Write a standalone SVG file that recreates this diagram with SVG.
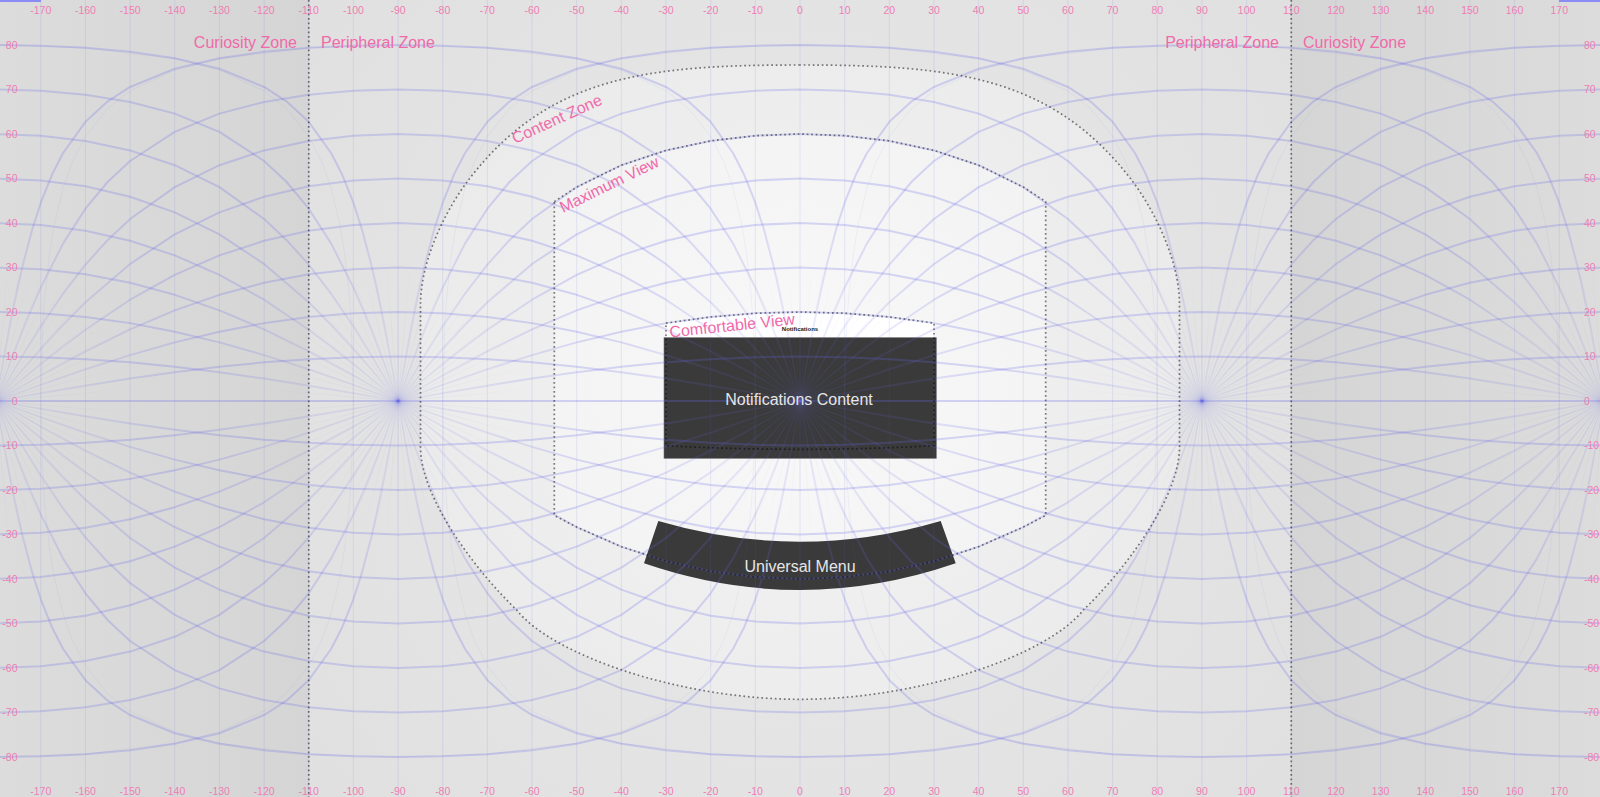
<svg xmlns="http://www.w3.org/2000/svg" width="1600" height="797" viewBox="0 0 1600 797">
<defs>
<style>
.ax{font-family:"Liberation Sans",Arial,sans-serif;font-size:10.5px;fill:#f07db4}
.zl{font-family:"Liberation Sans",Arial,sans-serif;font-size:16px;fill:#f06aa9}
.bx{font-family:"Liberation Sans",Arial,sans-serif;font-size:16px;fill:#e6e6e6}
.mer{fill:none;stroke:#6464e6;stroke-opacity:.12;stroke-width:1}
.eq{stroke:#6464e6;stroke-opacity:.26;stroke-width:1.8}
.dot{fill:none;stroke:#000;stroke-opacity:.5;stroke-width:1.7;stroke-dasharray:1.7 2.8}
.ring{fill:none;stroke:#6464e6;stroke-opacity:.07;stroke-width:1}
.h stop{stop-color:#6464e6}
#Hup path{fill:none;stroke-width:2;stroke-linejoin:round}
</style>
<radialGradient id="per" gradientUnits="userSpaceOnUse" cx="800" cy="400" r="700"><stop offset="0" stop-color="#e9e9e9"/><stop offset="1" stop-color="#dfdfdf"/></radialGradient>
<linearGradient id="curL" gradientUnits="userSpaceOnUse" x1="0" y1="0" x2="308.7" y2="0"><stop offset="0" stop-color="#dcdcdc"/><stop offset="1" stop-color="#d5d5d5"/></linearGradient>
<linearGradient id="curR" gradientUnits="userSpaceOnUse" x1="1291.3" y1="0" x2="1600" y2="0"><stop offset="0" stop-color="#d5d5d5"/><stop offset="1" stop-color="#dcdcdc"/></linearGradient>
<radialGradient id="cz" gradientUnits="userSpaceOnUse" cx="800" cy="390" r="390"><stop offset="0" stop-color="#f4f4f4"/><stop offset="1" stop-color="#ebebeb"/></radialGradient>
<radialGradient id="mv" gradientUnits="userSpaceOnUse" cx="800" cy="380" r="280"><stop offset="0" stop-color="#f9f9f9"/><stop offset="1" stop-color="#f3f3f3"/></radialGradient>
<radialGradient id="rg" class="h" gradientUnits="userSpaceOnUse" cx="0" cy="0" r="150"><stop offset="0" stop-opacity=".12"/><stop offset=".3" stop-opacity=".07"/><stop offset=".7" stop-opacity=".025"/><stop offset="1" stop-opacity="0"/></radialGradient>
<linearGradient id="g10" class="h" gradientUnits="userSpaceOnUse" x1="-401.94" y1="0" x2="401.94" y2="0"><stop offset="0" stop-opacity=".032"/><stop offset=".011" stop-opacity=".042"/><stop offset=".028" stop-opacity=".056"/><stop offset=".056" stop-opacity=".08"/><stop offset=".111" stop-opacity=".126"/><stop offset=".194" stop-opacity=".189"/><stop offset=".278" stop-opacity=".24"/><stop offset=".722" stop-opacity=".24"/><stop offset=".806" stop-opacity=".189"/><stop offset=".889" stop-opacity=".126"/><stop offset=".944" stop-opacity=".08"/><stop offset=".972" stop-opacity=".056"/><stop offset=".989" stop-opacity=".042"/><stop offset="1" stop-opacity=".032"/></linearGradient>
<linearGradient id="g20" class="h" gradientUnits="userSpaceOnUse" x1="-401.94" y1="0" x2="401.94" y2="0"><stop offset="0" stop-opacity=".032"/><stop offset=".011" stop-opacity=".042"/><stop offset=".028" stop-opacity=".057"/><stop offset=".056" stop-opacity=".082"/><stop offset=".111" stop-opacity=".13"/><stop offset=".194" stop-opacity=".194"/><stop offset=".278" stop-opacity=".24"/><stop offset=".722" stop-opacity=".24"/><stop offset=".806" stop-opacity=".194"/><stop offset=".889" stop-opacity=".13"/><stop offset=".944" stop-opacity=".082"/><stop offset=".972" stop-opacity=".057"/><stop offset=".989" stop-opacity=".042"/><stop offset="1" stop-opacity=".032"/></linearGradient>
<linearGradient id="g30" class="h" gradientUnits="userSpaceOnUse" x1="-401.94" y1="0" x2="401.94" y2="0"><stop offset="0" stop-opacity=".032"/><stop offset=".011" stop-opacity=".043"/><stop offset=".028" stop-opacity=".059"/><stop offset=".056" stop-opacity=".086"/><stop offset=".111" stop-opacity=".136"/><stop offset=".194" stop-opacity=".202"/><stop offset=".278" stop-opacity=".24"/><stop offset=".722" stop-opacity=".24"/><stop offset=".806" stop-opacity=".202"/><stop offset=".889" stop-opacity=".136"/><stop offset=".944" stop-opacity=".086"/><stop offset=".972" stop-opacity=".059"/><stop offset=".989" stop-opacity=".043"/><stop offset="1" stop-opacity=".032"/></linearGradient>
<linearGradient id="g40" class="h" gradientUnits="userSpaceOnUse" x1="-401.94" y1="0" x2="401.94" y2="0"><stop offset="0" stop-opacity=".032"/><stop offset=".011" stop-opacity=".045"/><stop offset=".028" stop-opacity=".062"/><stop offset=".056" stop-opacity=".092"/><stop offset=".111" stop-opacity=".147"/><stop offset=".194" stop-opacity=".214"/><stop offset=".278" stop-opacity=".24"/><stop offset=".722" stop-opacity=".24"/><stop offset=".806" stop-opacity=".214"/><stop offset=".889" stop-opacity=".147"/><stop offset=".944" stop-opacity=".092"/><stop offset=".972" stop-opacity=".062"/><stop offset=".989" stop-opacity=".045"/><stop offset="1" stop-opacity=".032"/></linearGradient>
<linearGradient id="g50" class="h" gradientUnits="userSpaceOnUse" x1="-401.94" y1="0" x2="401.94" y2="0"><stop offset="0" stop-opacity=".032"/><stop offset=".011" stop-opacity=".046"/><stop offset=".028" stop-opacity=".069"/><stop offset=".056" stop-opacity=".104"/><stop offset=".111" stop-opacity=".165"/><stop offset=".194" stop-opacity=".23"/><stop offset=".278" stop-opacity=".24"/><stop offset=".722" stop-opacity=".24"/><stop offset=".806" stop-opacity=".23"/><stop offset=".889" stop-opacity=".165"/><stop offset=".944" stop-opacity=".104"/><stop offset=".972" stop-opacity=".069"/><stop offset=".989" stop-opacity=".046"/><stop offset="1" stop-opacity=".032"/></linearGradient>
<linearGradient id="g60" class="h" gradientUnits="userSpaceOnUse" x1="-401.94" y1="0" x2="401.94" y2="0"><stop offset="0" stop-opacity=".032"/><stop offset=".011" stop-opacity=".051"/><stop offset=".028" stop-opacity=".078"/><stop offset=".056" stop-opacity=".122"/><stop offset=".111" stop-opacity=".191"/><stop offset=".194" stop-opacity=".24"/><stop offset=".806" stop-opacity=".24"/><stop offset=".889" stop-opacity=".191"/><stop offset=".944" stop-opacity=".122"/><stop offset=".972" stop-opacity=".078"/><stop offset=".989" stop-opacity=".051"/><stop offset="1" stop-opacity=".032"/></linearGradient>
<linearGradient id="g70" class="h" gradientUnits="userSpaceOnUse" x1="-401.94" y1="0" x2="401.94" y2="0"><stop offset="0" stop-opacity=".032"/><stop offset=".011" stop-opacity=".06"/><stop offset=".028" stop-opacity=".099"/><stop offset=".056" stop-opacity=".156"/><stop offset=".111" stop-opacity=".228"/><stop offset=".194" stop-opacity=".24"/><stop offset=".806" stop-opacity=".24"/><stop offset=".889" stop-opacity=".228"/><stop offset=".944" stop-opacity=".156"/><stop offset=".972" stop-opacity=".099"/><stop offset=".989" stop-opacity=".06"/><stop offset="1" stop-opacity=".032"/></linearGradient>
<linearGradient id="g80" class="h" gradientUnits="userSpaceOnUse" x1="-401.94" y1="0" x2="401.94" y2="0"><stop offset="0" stop-opacity=".032"/><stop offset=".011" stop-opacity=".086"/><stop offset=".028" stop-opacity=".154"/><stop offset=".056" stop-opacity=".224"/><stop offset=".111" stop-opacity=".24"/><stop offset=".889" stop-opacity=".24"/><stop offset=".944" stop-opacity=".224"/><stop offset=".972" stop-opacity=".154"/><stop offset=".989" stop-opacity=".086"/><stop offset="1" stop-opacity=".032"/></linearGradient>
<g id="Hup">
<path stroke="url(#g10)" d="M-401.94,0L-357.28,-7.81L-312.62,-15.36L-267.96,-22.42L-223.3,-28.77L-178.64,-34.23L-133.98,-38.64L-89.32,-41.87L-44.66,-43.84L0,-44.5L44.66,-43.84L89.32,-41.87L133.98,-38.64L178.64,-34.23L223.3,-28.77L267.96,-22.42L312.62,-15.36L357.28,-7.81L401.94,0"/>
<path stroke="url(#g20)" d="M-401.94,0L-357.28,-16.11L-312.62,-31.6L-267.96,-45.88L-223.3,-58.61L-178.64,-69.33L-133.98,-77.88L-89.32,-84.02L-44.66,-87.75L0,-89L44.66,-87.75L89.32,-84.02L133.98,-77.88L178.64,-69.33L223.3,-58.61L267.96,-45.88L312.62,-31.6L357.28,-16.11L401.94,0"/>
<path stroke="url(#g30)" d="M-401.94,0L-357.28,-25.5L-312.62,-49.71L-267.96,-71.65L-223.3,-90.6L-178.64,-106.18L-133.98,-118.24L-89.32,-126.74L-44.66,-131.81L0,-133.5L44.66,-131.81L89.32,-126.74L133.98,-118.24L178.64,-106.18L223.3,-90.6L267.96,-71.65L312.62,-49.71L357.28,-25.5L401.94,0"/>
<path stroke="url(#g40)" d="M-401.94,0L-379.61,-18.6L-357.28,-36.89L-334.95,-54.51L-312.62,-71.24L-267.96,-101.28L-223.3,-126.11L-178.64,-145.65L-133.98,-160.2L-89.32,-170.26L-44.66,-176.09L0,-178L44.66,-176.09L89.32,-170.26L133.98,-160.2L178.64,-145.65L223.3,-126.11L267.96,-101.28L312.62,-71.24L334.95,-54.51L357.28,-36.89L379.61,-18.6L401.94,0"/>
<path stroke="url(#g50)" d="M-401.94,0L-388.54,-15.89L-375.14,-31.6L-357.28,-52.02L-334.95,-76.27L-312.62,-98.7L-267.96,-137.02L-223.3,-166.65L-178.64,-188.64L-133.98,-204.26L-89.32,-214.67L-44.66,-220.59L0,-222.5L44.66,-220.59L89.32,-214.67L133.98,-204.26L178.64,-188.64L223.3,-166.65L267.96,-137.02L312.62,-98.7L334.95,-76.27L357.28,-52.02L375.14,-31.6L388.54,-15.89L401.94,0"/>
<path stroke="url(#g60)" d="M-401.94,0L-397.47,-7.7L-388.54,-23.05L-375.14,-45.66L-357.28,-74.49L-334.95,-107.47L-312.62,-136.35L-290.29,-161.1L-267.96,-181.96L-223.3,-213.91L-178.64,-235.81L-133.98,-250.58L-89.32,-260.06L-44.66,-265.31L0,-267L44.66,-265.31L89.32,-260.06L133.98,-250.58L178.64,-235.81L223.3,-213.91L267.96,-181.96L290.29,-161.1L312.62,-136.35L334.95,-107.47L357.28,-74.49L375.14,-45.66L388.54,-23.05L397.47,-7.7L401.94,0"/>
<path stroke="url(#g70)" d="M-401.94,0L-397.47,-12.19L-388.54,-36.4L-384.08,-48.28L-375.14,-71.29L-366.21,-93.14L-357.28,-113.48L-334.95,-157.62L-312.62,-192.33L-290.29,-219.25L-267.96,-240.03L-223.3,-269.14L-178.64,-287.38L-133.98,-299.08L-89.32,-306.29L-44.66,-310.25L0,-311.5L44.66,-310.25L89.32,-306.29L133.98,-299.08L178.64,-287.38L223.3,-269.14L267.96,-240.03L290.29,-219.25L312.62,-192.33L334.95,-157.62L357.28,-113.48L366.21,-93.14L375.14,-71.29L384.08,-48.28L388.54,-36.4L397.47,-12.19L401.94,0"/>
<path stroke="url(#g80)" d="M-401.94,0L-397.47,-25.14L-393.01,-49.84L-388.54,-73.56L-384.08,-96.08L-379.61,-117L-375.14,-136.44L-366.21,-170.35L-357.28,-198.29L-346.12,-226.2L-334.95,-248L-312.62,-279.15L-290.29,-299.7L-267.96,-314.04L-223.3,-332.24L-178.64,-342.83L-133.98,-349.28L-89.32,-353.2L-44.66,-355.33L0,-356L44.66,-355.33L89.32,-353.2L133.98,-349.28L178.64,-342.83L223.3,-332.24L267.96,-314.04L290.29,-299.7L312.62,-279.15L334.95,-248L346.12,-226.2L357.28,-198.29L366.21,-170.35L375.14,-136.44L379.61,-117L384.08,-96.08L388.54,-73.56L393.01,-49.84L397.47,-25.14L401.94,0"/>
</g>
<g id="H"><use href="#Hup"/><use href="#Hup" transform="scale(1,-1)"/></g>
<path id="SB" fill="none" stroke="url(#rg)" stroke-width=".8" d="M-150,0L150,0M-149.43,-13.07L149.43,13.07M-149.43,13.07L149.43,-13.07M-147.72,-26.05L147.72,26.05M-147.72,26.05L147.72,-26.05M-144.89,-38.82L144.89,38.82M-144.89,38.82L144.89,-38.82M-140.95,-51.3L140.95,51.3M-140.95,51.3L140.95,-51.3M-135.95,-63.39L135.95,63.39M-135.95,63.39L135.95,-63.39M-129.9,-75L129.9,75M-129.9,75L129.9,-75M-122.87,-86.04L122.87,86.04M-122.87,86.04L122.87,-86.04M-114.91,-96.42L114.91,96.42M-114.91,96.42L114.91,-96.42M-106.07,-106.07L106.07,106.07M-106.07,106.07L106.07,-106.07M-96.42,-114.91L96.42,114.91M-96.42,114.91L96.42,-114.91M-86.04,-122.87L86.04,122.87M-86.04,122.87L86.04,-122.87M-75,-129.9L75,129.9M-75,129.9L75,-129.9M-63.39,-135.95L63.39,135.95M-63.39,135.95L63.39,-135.95M-51.3,-140.95L51.3,140.95M-51.3,140.95L51.3,-140.95M-38.82,-144.89L38.82,144.89M-38.82,144.89L38.82,-144.89M-26.05,-147.72L26.05,147.72M-26.05,147.72L26.05,-147.72M-13.07,-149.43L13.07,149.43M-13.07,149.43L13.07,-149.43M0,-150L0,150"/>
<path id="R80" class="ring" d="M-357.28,0L-355.05,-78.32L-352.81,-109.07L-348.35,-148.5L-343.88,-175.73L-334.95,-212.98L-326.02,-238.39L-312.62,-264.73L-290.29,-292.54L-267.96,-310.08L-223.3,-330.77L-178.64,-342.2L-89.32,-353.1L0,-356L89.32,-353.1L178.64,-342.2L223.3,-330.77L267.96,-310.08L290.29,-292.54L312.62,-264.73L326.02,-238.39L334.95,-212.98L343.88,-175.73L348.35,-148.5L352.81,-109.07L355.05,-78.32L357.28,0L355.05,78.32L352.81,109.07L348.35,148.5L343.88,175.73L334.95,212.98L326.02,238.39L312.62,264.73L290.29,292.54L267.96,310.08L223.3,330.77L178.64,342.2L89.32,353.1L0,356L-89.32,353.1L-178.64,342.2L-223.3,330.77L-267.96,310.08L-290.29,292.54L-312.62,264.73L-326.02,238.39L-334.95,212.98L-343.88,175.73L-348.35,148.5L-352.81,109.07L-355.05,78.32Z"/>
</defs>

<g id="zones">
<rect width="1600" height="797" fill="url(#per)"/>
<rect x="0" y="0" width="308.7" height="797" fill="url(#curL)"/>
<rect x="1291.3" y="0" width="308.7" height="797" fill="url(#curR)"/>
<path id="content-zone-fill" fill="url(#cz)" d="M800,65C650,65 550,75 470,178C446,209 420.5,260 420.5,305L420.5,447C420.5,500 480,575 516.7,610C552,655 680,699.3 800,699.3C920,699.3 1048,655 1083.3,610C1120,575 1179.5,500 1179.5,447L1179.5,305C1179.5,260 1154,209 1130,178C1050,75 950,65 800,65Z"/>
<path id="max-view-fill" fill="url(#mv)" d="M554.3,201.6L576.7,187.1L621.4,165.2L666,150.4L710.7,140.9L755.3,135.7L800,134L844.7,135.7L889.3,140.9L934,150.4L978.6,165.2L1023.3,187.1L1045.7,201.6L1045.7,515.4L1023.3,527.1L978.6,546.7L934,561.2L889.3,571.3L844.7,577.1L800,579L755.3,577.1L710.7,571.3L666,561.2L621.4,546.7L576.7,527.1L554.3,515.4Z"/>
<path id="comfortable-fill" fill="#ffffff" d="M666,323.1L710.7,317L755.3,313.25L800,312L844.7,313.25L889.3,317L934,323.1L934,445.7Q800,452.9 666,445.7Z"/>
</g>

<g id="notifications-box">
<rect x="664" y="337.7" width="272.3" height="120.6" fill="#3a3a3a" stroke="#6e6e6e" stroke-width=".6"/>
</g>
<g id="universal-menu-box">
<path d="M658.3,521Q800,562.4 940.7,521L955.7,563.3Q800,616.7 644,563.3Z" fill="#3a3a3a"/>
</g>

<g id="grid">
<path class="mer" d="M40.78,0V797M85.44,0V797M130.1,0V797M174.76,0V797M219.42,0V797M264.08,0V797M308.74,0V797M353.4,0V797M398.06,0V797M442.72,0V797M487.38,0V797M532.04,0V797M576.7,0V797M621.36,0V797M666.02,0V797M710.68,0V797M755.34,0V797M800,0V797M844.66,0V797M889.32,0V797M933.98,0V797M978.64,0V797M1023.3,0V797M1067.96,0V797M1112.62,0V797M1157.28,0V797M1201.94,0V797M1246.6,0V797M1291.26,0V797M1335.92,0V797M1380.58,0V797M1425.24,0V797M1469.9,0V797M1514.56,0V797M1559.22,0V797"/>
<line class="eq" x1="0" y1="401" x2="1600" y2="401"/>
<use href="#H" transform="translate(-3.88,401)"/>
<use href="#H" transform="translate(398.06,401)"/>
<use href="#H" transform="translate(800,401)"/>
<use href="#H" transform="translate(1201.94,401)"/>
<use href="#H" transform="translate(1603.88,401)"/>
<use href="#SB" transform="translate(-3.88,401)"/>
<use href="#SB" transform="translate(398.06,401)"/>
<use href="#SB" transform="translate(800,401)"/>
<use href="#SB" transform="translate(1201.94,401)"/>
<use href="#SB" transform="translate(1603.88,401)"/>
<use href="#R80" transform="translate(-3.88,401)"/>
<use href="#R80" transform="translate(398.06,401)"/>
<use href="#R80" transform="translate(800,401)"/>
<use href="#R80" transform="translate(1201.94,401)"/>
<use href="#R80" transform="translate(1603.88,401)"/>
<ellipse cx="398.06" cy="401" rx="2.2" ry="1.2" fill="#6464e6" fill-opacity=".3"/>
<ellipse cx="1201.94" cy="401" rx="2.2" ry="1.2" fill="#6464e6" fill-opacity=".3"/>
<rect x="0" y="0" width="41" height="2" fill="#8b8bf5"/>
<rect x="1559" y="0" width="41" height="2" fill="#8b8bf5"/>
</g>

<g id="outlines">
<line class="dot" x1="308.74" y1="0" x2="308.74" y2="797"/>
<line class="dot" x1="1291.26" y1="0" x2="1291.26" y2="797"/>
<path class="dot" d="M800,65C650,65 550,75 470,178C446,209 420.5,260 420.5,305L420.5,447C420.5,500 480,575 516.7,610C552,655 680,699.3 800,699.3C920,699.3 1048,655 1083.3,610C1120,575 1179.5,500 1179.5,447L1179.5,305C1179.5,260 1154,209 1130,178C1050,75 950,65 800,65Z"/>
<path class="dot" d="M554.3,201.6L576.7,187.1L621.4,165.2L666,150.4L710.7,140.9L755.3,135.7L800,134L844.7,135.7L889.3,140.9L934,150.4L978.6,165.2L1023.3,187.1L1045.7,201.6L1045.7,515.4L1023.3,527.1L978.6,546.7L934,561.2L889.3,571.3L844.7,577.1L800,579L755.3,577.1L710.7,571.3L666,561.2L621.4,546.7L576.7,527.1L554.3,515.4Z"/>
<path class="dot" d="M666,323.1L710.7,317L755.3,313.25L800,312L844.7,313.25L889.3,317L934,323.1L934,445.7Q800,452.9 666,445.7Z"/>
</g>

<g id="box-labels">
<text class="bx" x="799" y="404.5" text-anchor="middle">Notifications Content</text>
<text x="800" y="331" text-anchor="middle" font-family="Liberation Sans, Arial, sans-serif" font-weight="bold" font-size="6" fill="#222">Notifications</text>
<text class="bx" x="800" y="572" text-anchor="middle">Universal Menu</text>
</g>

<g id="zone-labels">
<text class="zl" x="297" y="48" text-anchor="end">Curiosity Zone</text>
<text class="zl" x="321" y="48">Peripheral Zone</text>
<text class="zl" x="1279" y="48" text-anchor="end">Peripheral Zone</text>
<text class="zl" x="1303" y="48">Curiosity Zone</text>
<text class="zl" transform="translate(515,144) rotate(-24.5)">Content Zone</text>
<text class="zl" transform="translate(563,213) rotate(-26)">Maximum View</text>
<text class="zl" transform="translate(670,337.5) rotate(-6)">Comfortable View</text>
</g>

<g id="axis-top" class="ax" text-anchor="middle">
<text x="40.78" y="14">-170</text><text x="85.44" y="14">-160</text><text x="130.1" y="14">-150</text><text x="174.76" y="14">-140</text><text x="219.42" y="14">-130</text><text x="264.08" y="14">-120</text><text x="308.74" y="14">-110</text><text x="353.4" y="14">-100</text><text x="398.06" y="14">-90</text><text x="442.72" y="14">-80</text><text x="487.38" y="14">-70</text><text x="532.04" y="14">-60</text><text x="576.7" y="14">-50</text><text x="621.36" y="14">-40</text><text x="666.02" y="14">-30</text><text x="710.68" y="14">-20</text><text x="755.34" y="14">-10</text><text x="800" y="14">0</text><text x="844.66" y="14">10</text><text x="889.32" y="14">20</text><text x="933.98" y="14">30</text><text x="978.64" y="14">40</text><text x="1023.3" y="14">50</text><text x="1067.96" y="14">60</text><text x="1112.62" y="14">70</text><text x="1157.28" y="14">80</text><text x="1201.94" y="14">90</text><text x="1246.6" y="14">100</text><text x="1291.26" y="14">110</text><text x="1335.92" y="14">120</text><text x="1380.58" y="14">130</text><text x="1425.24" y="14">140</text><text x="1469.9" y="14">150</text><text x="1514.56" y="14">160</text><text x="1559.22" y="14">170</text>
</g>
<g id="axis-bottom" class="ax" text-anchor="middle">
<text x="40.78" y="795">-170</text><text x="85.44" y="795">-160</text><text x="130.1" y="795">-150</text><text x="174.76" y="795">-140</text><text x="219.42" y="795">-130</text><text x="264.08" y="795">-120</text><text x="308.74" y="795">-110</text><text x="353.4" y="795">-100</text><text x="398.06" y="795">-90</text><text x="442.72" y="795">-80</text><text x="487.38" y="795">-70</text><text x="532.04" y="795">-60</text><text x="576.7" y="795">-50</text><text x="621.36" y="795">-40</text><text x="666.02" y="795">-30</text><text x="710.68" y="795">-20</text><text x="755.34" y="795">-10</text><text x="800" y="795">0</text><text x="844.66" y="795">10</text><text x="889.32" y="795">20</text><text x="933.98" y="795">30</text><text x="978.64" y="795">40</text><text x="1023.3" y="795">50</text><text x="1067.96" y="795">60</text><text x="1112.62" y="795">70</text><text x="1157.28" y="795">80</text><text x="1201.94" y="795">90</text><text x="1246.6" y="795">100</text><text x="1291.26" y="795">110</text><text x="1335.92" y="795">120</text><text x="1380.58" y="795">130</text><text x="1425.24" y="795">140</text><text x="1469.9" y="795">150</text><text x="1514.56" y="795">160</text><text x="1559.22" y="795">170</text>
</g>
<g id="axis-left" class="ax" text-anchor="end">
<text x="17.5" y="48.8">80</text><text x="17.5" y="93.3">70</text><text x="17.5" y="137.8">60</text><text x="17.5" y="182.3">50</text><text x="17.5" y="226.8">40</text><text x="17.5" y="271.3">30</text><text x="17.5" y="315.8">20</text><text x="17.5" y="360.3">10</text><text x="17.5" y="404.8">0</text><text x="17.5" y="449.3">-10</text><text x="17.5" y="493.8">-20</text><text x="17.5" y="538.3">-30</text><text x="17.5" y="582.8">-40</text><text x="17.5" y="627.3">-50</text><text x="17.5" y="671.8">-60</text><text x="17.5" y="716.3">-70</text><text x="17.5" y="760.8">-80</text>
</g>
<g id="axis-right" class="ax">
<text x="1584" y="48.8">80</text><text x="1584" y="93.3">70</text><text x="1584" y="137.8">60</text><text x="1584" y="182.3">50</text><text x="1584" y="226.8">40</text><text x="1584" y="271.3">30</text><text x="1584" y="315.8">20</text><text x="1584" y="360.3">10</text><text x="1584" y="404.8">0</text><text x="1584" y="449.3">-10</text><text x="1584" y="493.8">-20</text><text x="1584" y="538.3">-30</text><text x="1584" y="582.8">-40</text><text x="1584" y="627.3">-50</text><text x="1584" y="671.8">-60</text><text x="1584" y="716.3">-70</text><text x="1584" y="760.8">-80</text>
</g>
</svg>
